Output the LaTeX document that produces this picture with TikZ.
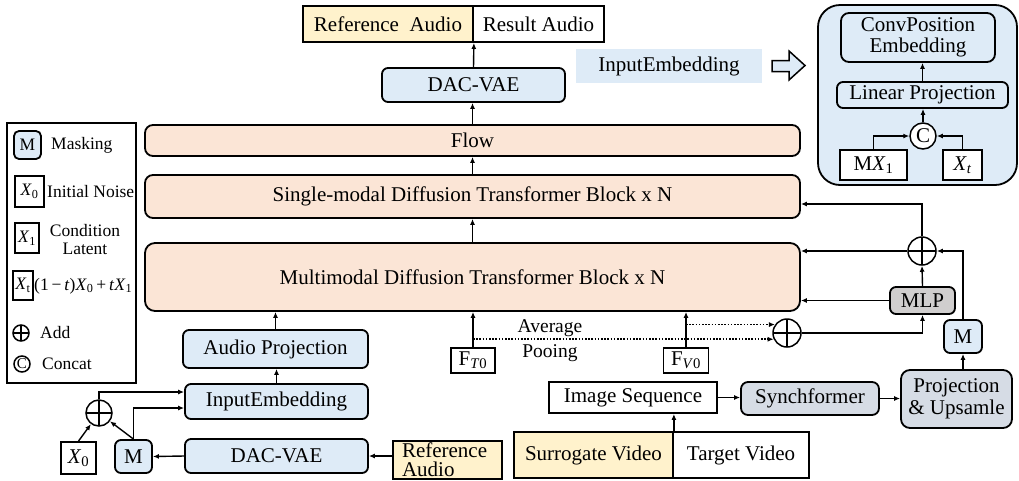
\documentclass[tikz,border=0pt]{standalone}
\usepackage{fontspec}
\setmainfont{Liberation Serif}
\usetikzlibrary{arrows.meta,calc}
\definecolor{peach}{HTML}{FBE5D6}
\definecolor{skyfill}{HTML}{DEEBF7}
\definecolor{sand}{HTML}{FFF2CC}
\definecolor{greyfill}{HTML}{D0CECE}
\definecolor{slatefill}{HTML}{D6DCE5}
% italic letter with a subscript, set in the text font
\newcommand\symsub[2]{\textit{#1}\textsubscript{#2}}

\begin{document}
\begin{tikzpicture}[x=1pt,y=-1pt,
  font=\fontsize{21}{24}\selectfont,
  box/.style={draw,line width=1.8pt,inner sep=0pt,align=center},
  rbox/.style={box,rounded corners=6pt},
  arr/.style={-{Latex[length=6pt,width=5pt]},line width=1.4pt},
  dotarr/.style={arr,line width=1.6pt,dash pattern=on 1.6pt off 1.6pt},
  legendfont/.style={font=\fontsize{17.5}{20}\selectfont},
  addsym/.style={circle,draw,line width=1.5pt,inner sep=0pt,
    path picture={\draw[line width=1.5pt]
      (path picture bounding box.north)--(path picture bounding box.south)
      (path picture bounding box.west)--(path picture bounding box.east);}},
  catsym/.style={circle,draw,line width=1.5pt,inner sep=0pt,fill=white}
]
\useasboundingbox (0,0) rectangle (1019,480);

% ---------- output side ----------
\node[box,fill=sand,minimum width=170pt,minimum height=36pt] (refTop) at (388,24) {Reference\ \ Audio};
\node[box,fill=white,minimum width=131pt,minimum height=36pt] (resTop) at (538.5,24) {Result Audio};
\node[rbox,fill=skyfill,minimum width=183pt,minimum height=34pt] (dacTop) at (473.5,85) {DAC-VAE};

% ---------- transformer stack ----------
\node[rbox,fill=peach,rounded corners=8pt,minimum width=655pt,minimum height=31pt] (flow) at (472.5,140.5) {Flow};
\node[rbox,fill=peach,rounded corners=8pt,minimum width=655pt,minimum height=43pt] (single) at (472.5,196.5) {Single-modal Diffusion Transformer Block x N};
\node[rbox,fill=peach,rounded corners=10pt,minimum width=655pt,minimum height=68pt] (multi) at (472.5,277) {Multimodal Diffusion Transformer Block x N};

% ---------- audio branch ----------
\node[rbox,fill=skyfill,minimum width=185pt,minimum height=38pt] (audioProj) at (275.5,349) {Audio Projection};
\node[rbox,fill=skyfill,minimum width=183pt,minimum height=35pt] (inEmb) at (276.5,401.5) {InputEmbedding};
\node[rbox,fill=skyfill,minimum width=183pt,minimum height=34pt] (dacBot) at (276.5,456) {DAC-VAE};
\node[box,fill=sand,minimum width=109pt,minimum height=38pt,align=left,text width=91pt] (refBot) at (447.5,460) {Reference\\[-5pt]Audio};
\node[rbox,fill=skyfill,minimum width=37pt,minimum height=33pt] (mBot) at (133.5,456.5) {M};
\node[box,fill=white,minimum width=35pt,minimum height=32pt] (x0Bot) at (78.5,458) {\symsub{X}{0}};
\node[addsym,minimum size=26pt] (addBot) at (99,413) {};

% ---------- pooled features ----------
\node[box,fill=white,minimum width=44pt,minimum height=25pt] (ft0) at (473,360.5) {F\textsubscript{\textit{T}0}};
\node[box,fill=white,minimum width=45pt,minimum height=25pt] (fv0) at (686,360.5) {F\textsubscript{\textit{V}0}};
\node[font=\fontsize{19.5}{22}\selectfont] (avgLbl) at (550,328) {Average};
\node[font=\fontsize{19.5}{22}\selectfont] (poolLbl) at (550,353) {Pooing};
\node[addsym,minimum size=28pt] (addMid) at (787,333) {};

% ---------- video branch ----------
\node[rbox,fill=greyfill,minimum width=65pt,minimum height=27pt] (mlp) at (922.5,300.5) {MLP};
\node[addsym,minimum size=28pt] (addRight) at (922,251) {};
\node[rbox,fill=skyfill,minimum width=38pt,minimum height=33pt] (mRight) at (963,336.5) {M};
\node[rbox,fill=slatefill,rounded corners=9pt,minimum width=111pt,minimum height=58pt] (proj) at (956.5,399) {Projection\\[-2pt]\& Upsamle};
\node[rbox,fill=slatefill,rounded corners=7pt,minimum width=138pt,minimum height=33pt] (synch) at (810,398.5) {Synchformer};
\node[box,fill=white,minimum width=168pt,minimum height=31pt] (imgSeq) at (633,397.5) {Image Sequence};
\node[box,fill=sand,minimum width=159pt,minimum height=46pt] (surr) at (593.5,455) {Surrogate Video};
\node[box,fill=white,minimum width=136pt,minimum height=46pt] (target) at (741,455) {Target Video};

% ---------- InputEmbedding detail ----------
\node[fill=skyfill,minimum width=186pt,minimum height=34pt,inner sep=0pt] (embTitle) at (669,66) {InputEmbedding};
\draw[line width=1.5pt,fill=skyfill,line join=miter]
  (772,60.5) -- (789,60.5) -- (789,51) -- (805,65.5) -- (789,80) -- (789,71.5) -- (772,71.5) -- cycle;
\node[draw,line width=1.8pt,fill=skyfill,rounded corners=22pt,minimum width=199pt,minimum height=180pt] (embPanel) at (917.5,95) {};
\node[rbox,fill=skyfill,rounded corners=8pt,minimum width=154pt,minimum height=49pt] (conv) at (918,37.5) {ConvPosition\\[-3pt]Embedding};
\node[rbox,fill=skyfill,minimum width=171pt,minimum height=26pt] (linProj) at (922.5,95) {Linear Projection};
\node[catsym,minimum size=26pt] (cat) at (923,136) {C};
\node[box,fill=white,minimum width=67pt,minimum height=30pt] (mx1) at (873.5,165) {M\symsub{X}{1}};
\node[box,fill=white,minimum width=39pt,minimum height=30pt] (xt) at (962.5,165) {\symsub{X}{\textit{t}}};

% ---------- legend ----------
\node[draw,line width=1.5pt,minimum width=129pt,minimum height=260pt,inner sep=0pt] (legend) at (71.5,253) {};
\node[rbox,fill=skyfill,rounded corners=5pt,minimum width=27pt,minimum height=28pt,legendfont] (lgM) at (27.5,145) {M};
\node[anchor=west,legendfont,inner sep=0pt] (lgMtxt) at (51,145) {Masking};
\node[box,minimum width=29pt,minimum height=31pt,legendfont] (lgX0) at (29.5,191.5) {\symsub{X}{0}};
\node[anchor=west,legendfont,inner sep=0pt] (lgX0txt) at (47,191.5) {Initial Noise};
\node[box,minimum width=24pt,minimum height=30pt,legendfont] (lgX1) at (27,238) {\symsub{X}{1}};
\node[legendfont,align=center,inner sep=0pt] (lgX1txt) at (85,240) {Condition\\[-2pt]Latent};
\node[box,minimum width=20pt,minimum height=29pt,legendfont] (lgXt) at (23,285.5) {\symsub{X}{t}};
\node[anchor=west,legendfont,inner sep=0pt] (lgXttxt) at (34,286) {(1\,−\,\textit{t})\symsub{X}{0}\,+\,\textit{t}\symsub{X}{1}};
\node[addsym,minimum size=16pt] (lgAdd) at (21,333) {};
\node[anchor=west,legendfont,inner sep=0pt] (lgAddtxt) at (40,333) {Add};
\node[catsym,minimum size=16pt,font=\fontsize{15}{16}\selectfont] (lgCat) at (22,364) {C};
\node[anchor=west,legendfont,inner sep=0pt] (lgCattxt) at (42,364) {Concat};

% ---------- connectors ----------
\draw[arr] (dacTop.north) -- (refTop.south east);
\draw[arr] (flow.north) -- (flow.north |- dacTop.south);
\draw[arr] (single.north) -- (flow.south);
\draw[arr] (multi.north) -- (single.south);
\draw[arr] (audioProj.north) -- (audioProj.north |- multi.south);
\draw[arr] (inEmb.north) -- (inEmb.north |- audioProj.south);
\draw[arr] (dacBot.east -| refBot.west) -- (dacBot.east);
\draw[arr] (dacBot.west) -- (mBot.east);
\draw[arr] (x0Bot.north) -- (addBot);
\draw[arr] (mBot.north) -- (addBot);
\draw[arr] (mBot.north) |- ($(inEmb.west)+(0,6.5)$);
\draw[arr] (addBot.north) |- ($(inEmb.west)+(0,-9.5)$);

\draw[arr] (ft0.north) -- (ft0.north |- multi.south);
\draw[arr] (fv0.north) -- (fv0.north |- multi.south);
\draw[dotarr] (ft0.north |- addMid.205) -- (addMid.205);
\draw[dotarr] (fv0.north |- addMid.145) -- (addMid.145);
\draw[arr] (addMid.east) -| (mlp.south);
\draw[arr] (mlp.west) -- (mlp.west -| multi.east);
\draw[arr] (mlp.north) -- (addRight.south);
\draw[arr] (addRight.west) -- (addRight.west -| multi.east);
\draw[arr] (addRight.north) |- ($(single.east)+(0,7.5)$);
\draw[arr] (mRight.north) |- (addRight.east);
\draw[arr] (mRight.south |- proj.north) -- (mRight.south);
\draw[arr] (synch.east) -- (synch.east -| proj.west);
\draw[arr] (imgSeq.east) -- (imgSeq.east -| synch.west);
\draw[arr] (surr.north east) -- (surr.north east |- imgSeq.south);

\draw[arr] (linProj.north) -- (linProj.north |- conv.south);
\draw[arr] (cat.north) -- (cat.north |- linProj.south);
\draw[arr] (mx1.north) |- (cat.west);
\draw[arr] (xt.north) |- (cat.east);
\end{tikzpicture}
\end{document}
